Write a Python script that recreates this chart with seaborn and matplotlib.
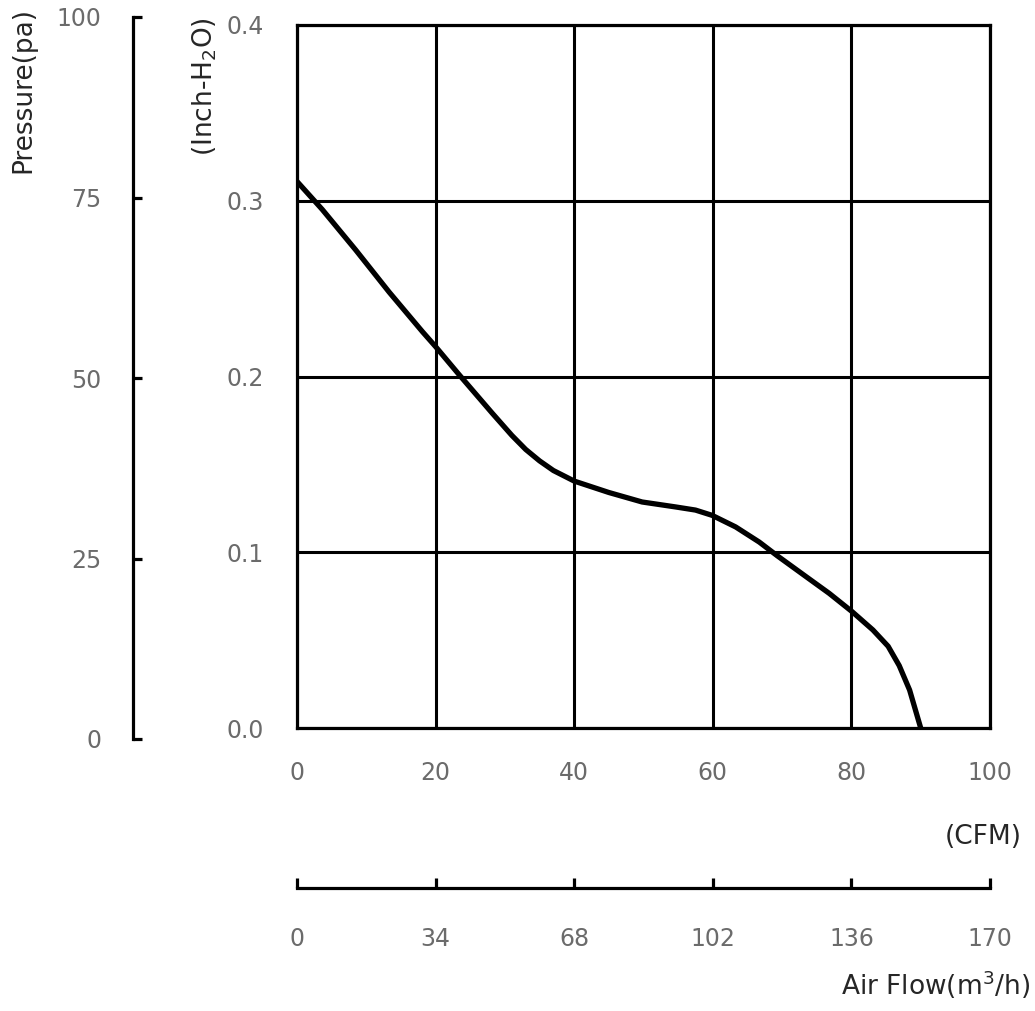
import matplotlib
matplotlib.use("Agg")
import matplotlib.pyplot as plt
import seaborn as sns
import pandas as pd

# ---- data ----
cfm = [0, 3.65, 8.47, 13.3, 18.1, 20.0, 23.4, 28.2, 31.0, 33.0, 35.0, 37.0,
       40.0, 45.0, 49.8, 54.6, 57.5, 59.9, 63.3, 66.7, 69.3, 73.5, 76.8,
       80.1, 83.1, 85.3, 86.9, 88.4, 90.0]
inch_h2o = [0.311, 0.295, 0.272, 0.248, 0.2255, 0.217, 0.201, 0.179, 0.1665,
            0.1585, 0.152, 0.1465, 0.1405, 0.134, 0.1286, 0.1258, 0.124, 0.121,
            0.1144, 0.1058, 0.098, 0.086, 0.0766, 0.0662, 0.0558, 0.0465,
            0.0355, 0.0216, 0.0]
cfm_ticks = [0, 20, 40, 60, 80, 100]
inch_ticks = [0.0, 0.1, 0.2, 0.3, 0.4]
pa_ticks = [0, 25, 50, 75, 100]
m3h_ticks = [0, 34, 68, 102, 136, 170]

sns.set_style("white")
plt.rcParams['font.family'] = ['DejaVu Sans']
plt.rcParams['mathtext.fontset'] = 'dejavusans'

TICK_C = '#6b6b6b'
TITLE_C = '#262626'
LW = 2.3
TFS = 17

fig = plt.figure(figsize=(10.35, 10.11), dpi=100)
W, H = 1035, 1011

# main axes
ax = fig.add_axes([297 / W, 1 - 728 / H, 693 / W, 703 / H])
df = pd.DataFrame({'cfm': cfm, 'inch': inch_h2o})
sns.lineplot(data=df, x='cfm', y='inch', ax=ax, color='black', linewidth=3.8,
             sort=False, estimator=None)
for ln in ax.get_lines():
    ln.set_solid_joinstyle('round')
    ln.set_solid_capstyle('butt')
ax.set_xlim(0, 100)
ax.set_ylim(0, 0.4)
ax.set_xticks(cfm_ticks)
ax.set_yticks(inch_ticks)
ax.set_yticklabels([f"{v:.1f}" for v in inch_ticks])
ax.set_xlabel('')
ax.set_ylabel('')
ax.grid(True, color='black', linewidth=2.2)
ax.set_axisbelow(True)
for s in ax.spines.values():
    s.set_visible(True)
    s.set_color('black')
    s.set_linewidth(LW)
ax.tick_params(axis='both', length=0, labelsize=TFS, labelcolor=TICK_C)
ax.tick_params(axis='x', pad=24)
ax.tick_params(axis='y', pad=24)

# pressure (pa) axis
axp = fig.add_axes([133 / W, 1 - 739 / H, 0.001, 722 / H])
axp.set_facecolor('none')
axp.set_ylim(0, 100)
axp.set_yticks(pa_ticks)
axp.set_xticks([])
for k, s in axp.spines.items():
    s.set_visible(k == 'left')
axp.spines['left'].set_linewidth(LW)
axp.spines['left'].set_color('black')
axp.tick_params(axis='y', left=True, direction='in', length=6.5, width=LW,
                color='black', labelsize=TFS, labelcolor=TICK_C, pad=23)

# m3/h axis
axm = fig.add_axes([297 / W, 1 - 888 / H, 693 / W, 0.001])
axm.set_facecolor('none')
axm.set_xlim(0, 170)
axm.set_xticks(m3h_ticks)
axm.set_yticks([])
for k, s in axm.spines.items():
    s.set_visible(k == 'bottom')
axm.spines['bottom'].set_linewidth(LW)
axm.spines['bottom'].set_color('black')
axm.tick_params(axis='x', bottom=True, direction='in', length=7.5, width=LW,
                color='black', labelsize=TFS, labelcolor=TICK_C, pad=28)

# titles
fig.text(23 / W, 1 - 7 / H, 'Pressure(pa)', rotation=90, ha='center', va='top',
         fontsize=19, color=TITLE_C)
fig.text(205 / W, 1 - 17 / H, '(Inch-H$_2$O)', rotation=90, ha='center', va='top',
         fontsize=19, color=TITLE_C)
fig.text(1022 / W, 1 - 837 / H, '(CFM)', ha='right', va='center',
         fontsize=19, color=TITLE_C)
fig.text(1030 / W, 1 - 985 / H, 'Air Flow(m$^3$/h)', ha='right', va='center',
         fontsize=19, color=TITLE_C)

fig.savefig('out.png', dpi=100)
